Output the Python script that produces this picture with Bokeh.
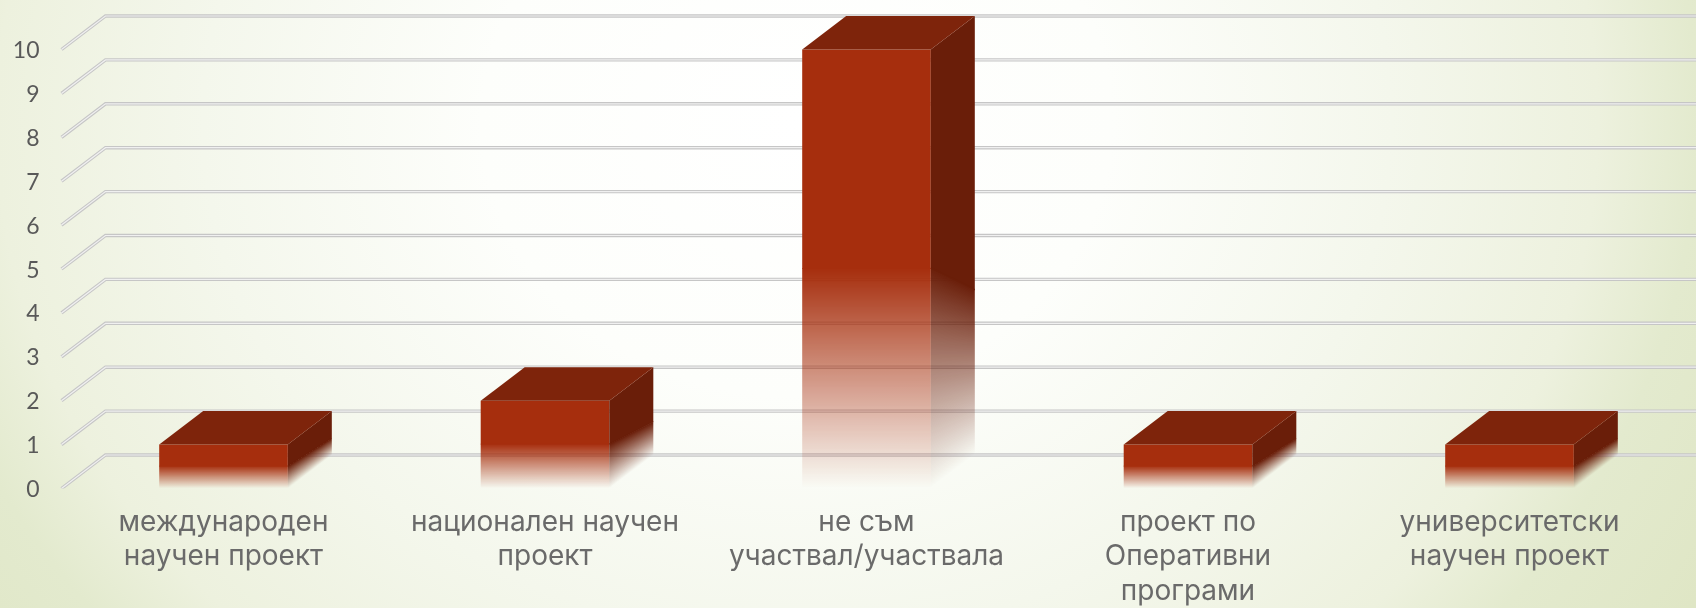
import numpy as np
from bokeh.plotting import figure
from bokeh.models import Range1d, FixedTicker, LinearAxis
from bokeh.embed import file_html
from bokeh.resources import INLINE

categories = ["международен\nнаучен проект", "национален научен\nпроект", "не съм\nучаствал/участвала",
              "проект по\nОперативни\nпрограми", "университетски\nнаучен проект"]
values = [1, 2, 10, 1, 1]
y_ticks = [0, 1, 2, 3, 4, 5, 6, 7, 8, 9, 10]

FRONT = "#A62E0D"; TOP = "#7E240B"; SIDE = "#6A1E09"; TEXT = "#595959"
W, H = 1696, 608
L, B = 52, 120
CAT_PX = 321.5; C0_PX = 223; UNIT_PX = 43.9
BAR_W = 128.6 / CAT_PX
DX = 44 / CAT_PX; DY = 33.5 / UNIT_PX
TAPER = 0.25

p = figure(width=W, height=H, frame_height=H - B, frame_width=W - L, output_backend="svg", toolbar_location=None,
           x_range=Range1d((L - C0_PX) / CAT_PX, (W - C0_PX) / CAT_PX),
           y_range=Range1d(0, (H - B) / UNIT_PX),
           min_border_left=L, min_border_right=0, min_border_top=0, min_border_bottom=B,
           x_axis_location=None, y_axis_location=None,
           background_fill_color=None, border_fill_color=None, outline_line_color=None)
p.grid.visible = False
p.stylesheets = [""":host{position:fixed;left:0;top:0;
background:radial-gradient(ellipse 900px 784px at 797px 122px, #ffffff 0%, #fdfefb 35%, #f4f7ec 66%, #edf1de 89%, #e3eace 100%, #dfe6c5 117%);}"""]

# walls / gridlines
x_l = (61 - C0_PX) / CAT_PX
xs = [[x_l, x_l + DX, p.x_range.end + 1] for _ in y_ticks]
ys = [[v, v + DY, v + DY] for v in y_ticks]
p.multi_line(xs, ys, line_color="#c6c6c6", line_width=3.4, line_join="miter")
p.multi_line(xs, ys, line_color="#f0f0f0", line_width=1.2, line_join="miter")

rgb = lambda h: tuple(int(h[i:i + 2], 16) for i in (1, 3, 5))

def fade_img(h_data, cols, rows, skew, fade_h, taper, color):
    y = (np.arange(rows) + .5) / rows * h_data
    x = (np.arange(cols) + .5) / cols
    yy, xx = np.meshgrid(y, x, indexing="ij")
    v = yy - xx * skew
    fh = fade_h * (1 - taper * xx)
    a = np.clip(v / fh, 0, 1)
    a[(v < 0) | (v > fh + 0.02)] = 0
    r, g, b = rgb(color)
    img = np.zeros((rows, cols), dtype=np.uint32)
    view = img.view(dtype=np.uint8).reshape((rows, cols, 4))
    view[..., 0], view[..., 1], view[..., 2] = r, g, b
    view[..., 3] = (a * 255).astype(np.uint8)
    return img

for i, v in enumerate(values):
    x0, x1 = i - BAR_W / 2, i + BAR_W / 2
    mid = v / 2
    # solid upper parts
    p.quad(left=x0, right=x1, bottom=mid, top=v, fill_color=FRONT, line_color=None)
    p.patch([x1, x1 + DX, x1 + DX, x1], [mid, mid * (1 - TAPER) + DY, v + DY, v], fill_color=SIDE, line_color=None)
    p.patch([x0, x1, x1 + DX, x0 + DX], [v, v, v + DY, v + DY], fill_color=TOP, line_color=None)
    # fading lower parts
    rows = int(mid * UNIT_PX * 2) + 2
    p.image_rgba(image=[fade_img(mid + .02, 260, rows, 0, mid, 0, FRONT)],
                 x=x0, y=0, dw=BAR_W, dh=mid + .02)
    h = mid + DY + .02
    p.image_rgba(image=[fade_img(h, 88, int(h * UNIT_PX * 2), DY, mid, TAPER, SIDE)],
                 x=x1, y=0, dw=DX, dh=h)

yax = LinearAxis(ticker=FixedTicker(ticks=y_ticks), axis_line_color=None, major_tick_line_color=None,
                 minor_tick_line_color=None, major_label_text_font="Lato", major_label_text_font_size="23px",
                 major_label_text_color=TEXT, major_label_standoff=7)
p.add_layout(yax, "left")
xax = LinearAxis(ticker=FixedTicker(ticks=list(range(len(categories)))), axis_line_color=None,
                 major_tick_line_color=None, minor_tick_line_color=None,
                 major_label_overrides={i: c for i, c in enumerate(categories)},
                 major_label_text_font="Inter", major_label_text_font_size="28px",
                 major_label_text_color="#6a6a6a", major_label_standoff=9, major_label_text_line_height=1.02,
                 major_label_text_align="center")
p.add_layout(xax, "below")

open("out.html", "w").write(file_html(p, INLINE))
